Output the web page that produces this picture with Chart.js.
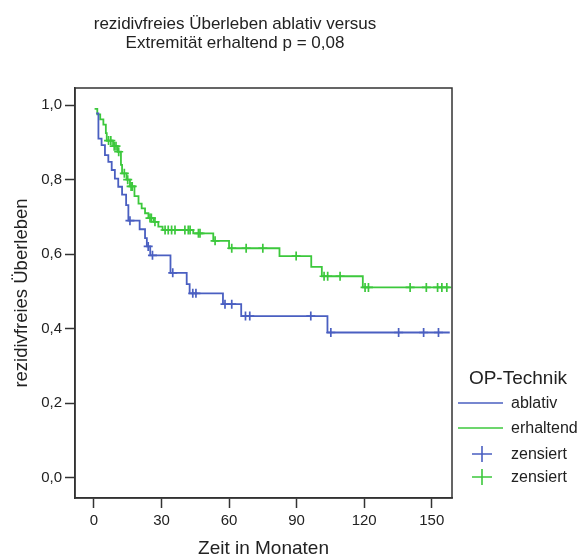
<!DOCTYPE html>
<html><head><meta charset="utf-8">
<script src="https://cdn.jsdelivr.net/npm/chart.js@4/dist/chart.umd.min.js"></script>
<style>html,body{margin:0;padding:0;background:#fff}#wrap{width:582px;height:560px}</style>
</head><body><div id="wrap"><canvas id="c" width="582" height="560"></canvas></div>
<script>
const titleLines = ["rezidivfreies Überleben ablativ versus", "Extremität erhaltend p = 0,08"];
const xTitle = "Zeit in Monaten";
const yTitle = "rezidivfreies Überleben";
const legendTitle = "OP-Technik";
const seriesNames = ["ablativ", "erhaltend"];
const censorLabel = "zensiert";
const xTicks = [0, 30, 60, 90, 120, 150];
const yTicks = [0, 0.2, 0.4, 0.6, 0.8, 1.0];

// ablativ: event times and survival after each event
const ablativTimes = [1, 2, 3.4, 4.9, 6.4, 7.9, 9.3, 10.8, 12.5, 14.3, 15.3, 20.3, 22.7, 23.5, 25, 34, 41.2, 42.5, 57.3, 65.4, 103.7, 158];
const ablativSurv  = [0.978, 0.91, 0.893, 0.866, 0.848, 0.826, 0.803, 0.781, 0.76, 0.732, 0.69, 0.667, 0.643, 0.621, 0.597, 0.55, 0.52, 0.495, 0.466, 0.434, 0.39, 0.39];
const ablativCensored = [16, 24.1, 26, 35, 43.9, 45.3, 58.2, 61.2, 67.3, 69.2, 96.3, 105.2, 135.3, 146.4, 153];

// erhaltend
const erhaltendTimes = [0.3, 1.5, 2.8, 4.2, 5.3, 5.7, 8.5, 10.5, 12, 12.5, 14.5, 16, 18, 19.8, 21.2, 22.7, 24.2, 26.5, 28.6, 30.5, 44.1, 53, 60, 82.4, 96.5, 101.2, 119.4, 158];
const erhaltendSurv  = [0.99, 0.975, 0.962, 0.948, 0.925, 0.905, 0.89, 0.875, 0.84, 0.817, 0.8, 0.782, 0.756, 0.736, 0.723, 0.71, 0.697, 0.687, 0.674, 0.665, 0.656, 0.636, 0.616, 0.595, 0.566, 0.541, 0.511, 0.511];
const erhaltendCensored = [6.5, 7.5, 9, 9.8, 11, 13.5, 15, 16.5, 17, 24.9, 25.5, 27.1, 31.6, 33, 34.5, 36, 40.4, 41.9, 42.7, 46.4, 47.1, 53.8, 61.2, 67.6, 75, 89.8, 102.2, 103.8, 109.3, 120.4, 121.9, 140.4, 147.6, 152.6, 154.5, 156.7];

const BLUE = '#4a5fc1';
const GREEN = '#3cc83c';
const FONT = '"Liberation Sans", Arial, sans-serif';
const TXT = '#222';

function survAt(times, surv, t) {
  let s = surv[0];
  for (let i = 0; i < times.length; i++) { if (times[i] <= t) s = surv[i]; }
  return s;
}
function pts(times, surv) { return times.map((t, i) => ({x: t, y: surv[i]})); }
function cens(c, times, surv) { return c.map(t => ({x: t, y: survAt(times, surv, t)})); }

const deco = {
  id: 'deco',
  afterDraw(chart) {
    const ctx = chart.ctx, a = chart.chartArea;
    ctx.save();
    ctx.strokeStyle = '#333'; ctx.lineWidth = 1.5;
    ctx.strokeRect(a.left, a.top, a.right - a.left, a.bottom - a.top);
    ctx.fillStyle = TXT;
    ctx.textAlign = 'center'; ctx.textBaseline = 'alphabetic';
    ctx.font = '17px ' + FONT;
    ctx.fillText(titleLines[0], 235, 29);
    ctx.fillText(titleLines[1], 235, 48);
    ctx.font = '19px ' + FONT;
    ctx.fillText(legendTitle, 518, 384);
    ctx.textAlign = 'left';
    ctx.font = '16px ' + FONT;
    const rows = [[BLUE, 'line', seriesNames[0], 403], [GREEN, 'line', seriesNames[1], 428], [BLUE, 'cross', censorLabel, 454], [GREEN, 'cross', censorLabel, 477]];
    rows.forEach(r => {
      ctx.strokeStyle = r[0]; ctx.lineWidth = 1.6;
      ctx.beginPath();
      if (r[1] === 'line') { ctx.moveTo(458, r[3]); ctx.lineTo(503, r[3]); }
      else { ctx.moveTo(472, r[3]); ctx.lineTo(492, r[3]); ctx.moveTo(482, r[3] - 8); ctx.lineTo(482, r[3] + 8); }
      ctx.stroke();
      ctx.fillStyle = TXT;
      ctx.fillText(r[2], 511, r[3] + 5);
    });
    ctx.restore();
  }
};

new Chart(document.getElementById('c'), {
  type: 'scatter',
  data: {
    datasets: [
      {label: seriesNames[0], type: 'line', data: pts(ablativTimes, ablativSurv), stepped: true, borderColor: BLUE, borderWidth: 1.8, pointRadius: 0, fill: false},
      {label: seriesNames[1], type: 'line', data: pts(erhaltendTimes, erhaltendSurv), stepped: true, borderColor: GREEN, borderWidth: 1.8, pointRadius: 0, fill: false},
      {label: censorLabel, data: cens(ablativCensored, ablativTimes, ablativSurv), pointStyle: 'cross', pointRadius: 4.5, borderColor: BLUE, borderWidth: 1.7, showLine: false},
      {label: censorLabel, data: cens(erhaltendCensored, erhaltendTimes, erhaltendSurv), pointStyle: 'cross', pointRadius: 4.5, borderColor: GREEN, borderWidth: 1.7, showLine: false}
    ]
  },
  options: {
    responsive: false, animation: false, devicePixelRatio: 1,
    layout: {padding: {top: 88, right: 130, left: 0, bottom: 0}},
    plugins: {legend: {display: false}, title: {display: false}, tooltip: {enabled: false}},
    scales: {
      x: {
        type: 'linear', min: -8.4, max: 159,
        afterBuildTicks: s => { s.ticks = xTicks.map(v => ({value: v})); },
        afterFit: s => { s.height = 62; },
        grid: {drawOnChartArea: false, drawTicks: true, tickLength: 10, tickColor: '#333', tickWidth: 1.5},
        border: {display: true, color: '#333', width: 1.5},
        ticks: {color: TXT, font: {family: FONT, size: 15}, padding: 4, maxRotation: 0, callback: v => String(v)},
        title: {display: true, text: xTitle, color: TXT, font: {family: FONT, size: 19}, padding: {top: 0, bottom: 0}}
      },
      y: {
        type: 'linear', min: -0.054, max: 1.046,
        afterBuildTicks: s => { s.ticks = yTicks.map(v => ({value: v})); },
        afterFit: s => { s.width = 75; },
        grid: {drawOnChartArea: false, drawTicks: true, tickLength: 10, tickColor: '#333', tickWidth: 1.5},
        border: {display: true, color: '#333', width: 1.5},
        ticks: {color: TXT, font: {family: FONT, size: 15}, padding: 3, callback: v => Number(v).toFixed(1).replace('.', ',')},
        title: {display: true, text: yTitle, color: TXT, font: {family: FONT, size: 18.5}, padding: {top: 11, bottom: 0}}
      }
    }
  },
  plugins: [deco]
});
</script></body></html>
